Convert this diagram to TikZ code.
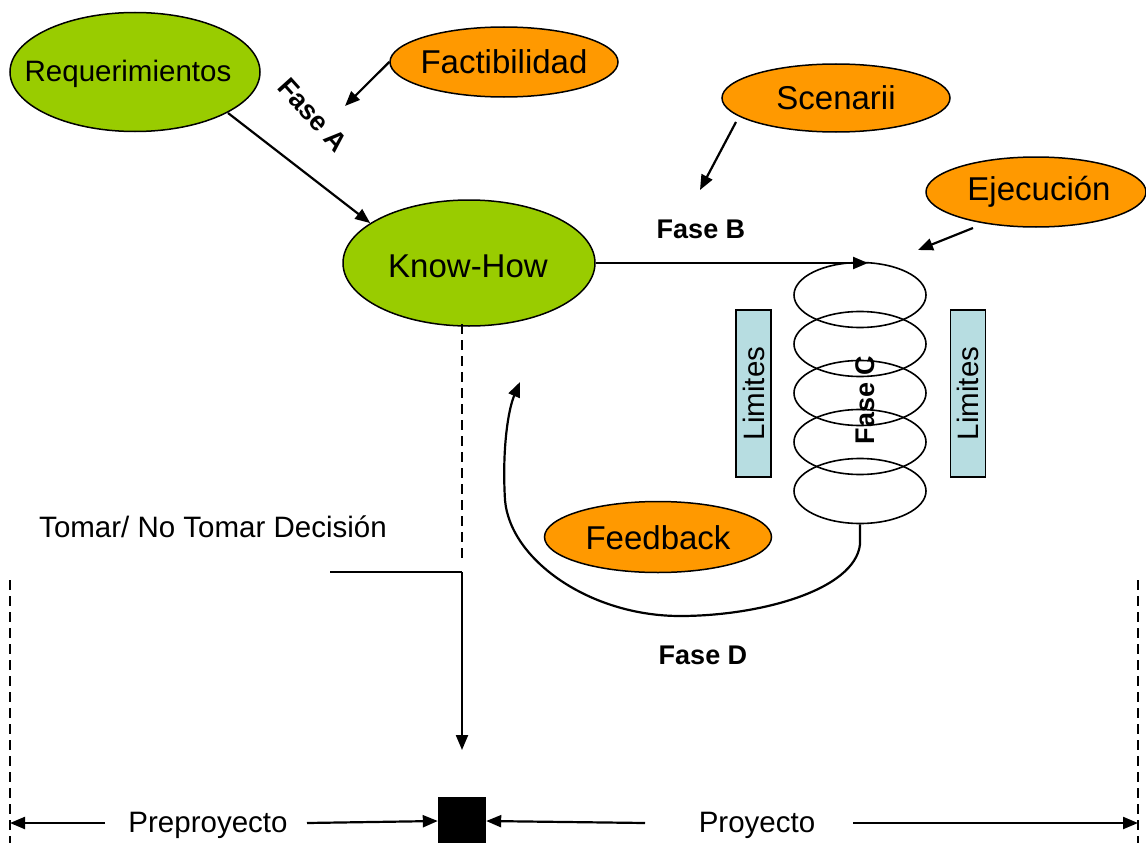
\documentclass[tikz,border=0pt]{standalone}
\usepackage{fontspec}
\setmainfont{Liberation Sans}
\usetikzlibrary{shapes.geometric,arrows.meta}
\definecolor{leaf}{HTML}{99CC00}
\definecolor{amber}{HTML}{FF9900}
\definecolor{limblue}{HTML}{B7DDE1}
\tikzset{
  big/.style={font=\fontsize{33}{38}\selectfont},
  mid/.style={font=\fontsize{29.5}{34}\selectfont},
  phase/.style={font=\fontsize{27}{30}\selectfont\bfseries},
  greenell/.style={ellipse,draw=black,line width=1.5,fill=leaf,inner sep=0},
  orangeell/.style={ellipse,draw=black,line width=1.5,fill=amber,inner sep=0},
  coil/.style={ellipse,draw=black,line width=1.6,inner sep=0,minimum width=132,minimum height=65},
  limbox/.style={draw=black,line width=1.2,fill=limblue,rotate=90,minimum width=167,minimum height=35,inner sep=0,mid},
  arr/.style={line width=2.2,-{Triangle[length=15,width=12]}},
  plain/.style={line width=2.2},
  dashline/.style={line width=2.2,dash pattern=on 10 off 6}
}
\begin{document}
\begin{tikzpicture}[x=1pt,y=-1pt]
\useasboundingbox (0,0) rectangle (1146,843);

% ellipses
\node[greenell,minimum width=250,minimum height=119] (req) at (135,72) {};
\node[font=\fontsize{29.5}{32}\selectfont] at (128,74) {Requerimientos};
\node[orangeell,minimum width=228,minimum height=70] (fact) at (504,62) {};
\node[big] at (504,62) {Factibilidad};
\node[greenell,minimum width=252,minimum height=126] (kh) at (469,263) {};
\node[big] at (468,266) {Know-How};
\node[orangeell,minimum width=228,minimum height=68] (scen) at (836,98) {};
\node[big] at (836,98) {Scenarii};
\node[orangeell,minimum width=220,minimum height=70] (ejec) at (1036,192) {};
\node[big] at (1039,192) {Ejecución};
\node[orangeell,minimum width=227,minimum height=71] (feed) at (658,537) {};
\node[big] at (658,538) {Feedback};

% phase labels
\node[phase,rotate=-48] (fa) at (313,115) {Fase A};
\node[phase] (fb) at (701,229) {Fase B};
\node[phase] (fd) at (703,655) {Fase D};

% coordinates
\coordinate (factTip) at (345,106);
\coordinate (reqOut) at (228,113);
\coordinate (scenOut) at (736,122);
\coordinate (scenTip) at (700,190);
\coordinate (ejecOut) at (973,228);
\coordinate (ejecTip) at (918,250);
\coordinate (coilTop) at (868,263);
\coordinate (fbTip) at (520,382);

% coil
\node[coil] (c1) at (860,295) {};
\node[coil] (c2) at (860,344) {};
\node[coil] (c3) at (860,393) {};
\node[coil] (c4) at (860,442) {};
\node[coil] (c5) at (860,491) {};
\node[phase,rotate=90] (fc) at (865,400) {Fase C};

% limits
\node[limbox] (lim1) at (753.5,393.5) {Limites};
\node[limbox] (lim2) at (968,393.5) {Limites};

% arrows top
\draw[arr] (fact.west) -- (factTip);
\draw[arr] (reqOut) -- (kh.158);
\draw[arr] (scenOut) -- (scenTip);
\draw[arr] (ejecOut) -- (ejecTip);
\draw[arr] (kh.east) -- (coilTop);

% feedback loop
\draw[arr] (c5.south) -- ++(0,20) .. controls (855,590) and (760,616) .. (680,616)
  .. controls (590,616) and (510,560) .. (505,500)
  .. controls (502,450) and (508,410) .. (fbTip);

% decision
\coordinate (dashTop) at (462,324);
\coordinate (dashBot) at (462,560);
\coordinate (decL) at (330,572);
\coordinate (decC) at (462,572);
\coordinate (decTip) at (462,750);
\draw[dashline] (dashTop) -- (dashBot);
\draw[plain] (decL) -- (decC);
\draw[arr] (decC) -- (decTip);
\node[mid] (tom) at (213,527) {Tomar/ No Tomar Decisión};

% timeline
\node[fill=black,minimum width=48,minimum height=48,inner sep=0] (sq) at (462,821) {};
\coordinate (lTop) at (10,580);
\coordinate (lBot) at (10,843);
\coordinate (rTop) at (1138,580);
\coordinate (rBot) at (1138,843);
\draw[dashline] (lTop) -- (lBot);
\draw[dashline] (rTop) -- (rBot);
\coordinate (lEnd) at (10,823);
\coordinate (rEnd) at (1138,823);
\node[mid] (pre) at (208,825) {Preproyecto};
\node[mid] (pro) at (757,825) {Proyecto};
\coordinate (preL) at (105,823);
\coordinate (preR) at (307,823);
\coordinate (proL) at (645,823);
\coordinate (proR) at (853,823);
\draw[arr] (preL) -- (lEnd);
\draw[arr] (preR) -- (sq.west);
\draw[arr] (proL) -- (sq.east);
\draw[arr] (proR) -- (rEnd);
\end{tikzpicture}
\end{document}
